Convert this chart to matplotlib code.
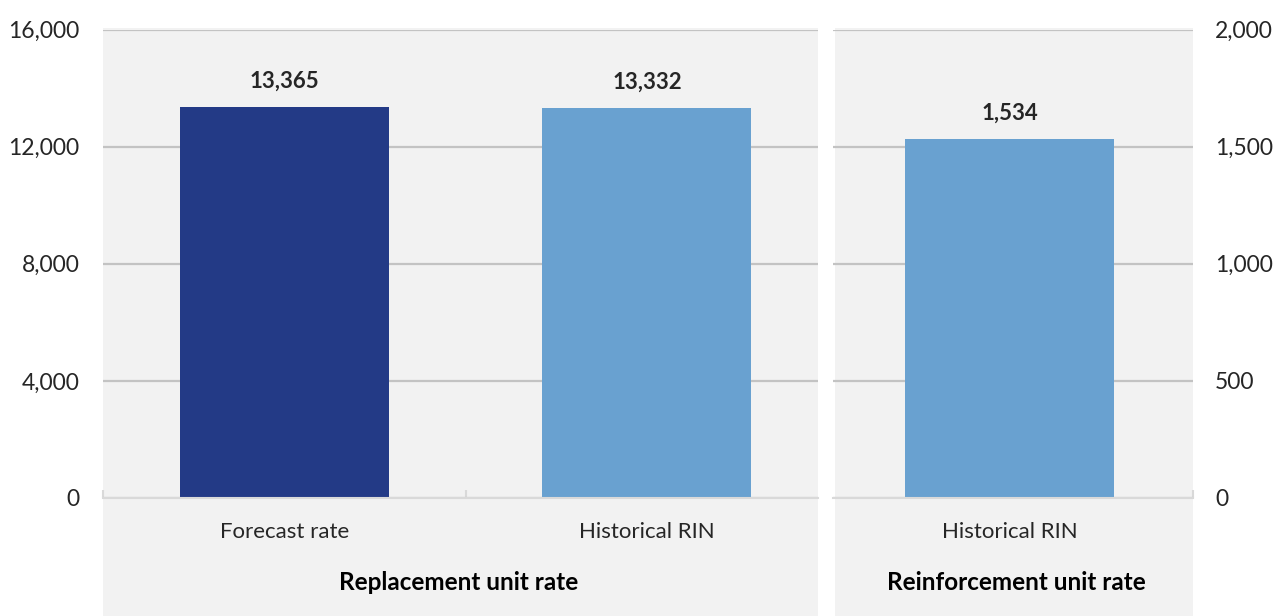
import matplotlib
matplotlib.use("Agg")
import matplotlib.pyplot as plt
from matplotlib.patches import Rectangle
from matplotlib.ticker import FuncFormatter

plt.rcParams['font.family'] = ['Lato', 'DejaVu Sans']

# Data
replacement_categories = ["Forecast rate", "Historical RIN"]
replacement_values = [13365, 13332]
reinforcement_categories = ["Historical RIN"]
reinforcement_values = [1534]
group_labels = ["Replacement unit rate", "Reinforcement unit rate"]
left_ticks = [0, 4000, 8000, 12000, 16000]
right_ticks = [0, 500, 1000, 1500, 2000]

W, H = 1273, 616
DPI = 100
fig = plt.figure(figsize=(W / DPI, H / DPI), dpi=DPI)

NAVY = "#233a86"
LIGHT = "#69a1d0"
PANEL = "#f2f2f2"
GRID = "#c3c3c3"
BASE = "#d9d9d9"
TEXT = "#262626"


def px_rect(x0, x1, y_top, y_bot):
    return [x0 / W, (H - y_bot) / H, (x1 - x0) / W, (y_bot - y_top) / H]


# grey panels behind each group
for x0, x1 in [(103, 818), (835, 1193)]:
    fig.patches.append(Rectangle((x0 / W, 0), (x1 - x0) / W, (H - 28) / H,
                                 transform=fig.transFigure, facecolor=PANEL,
                                 edgecolor="none", zorder=-5))

fmt = FuncFormatter(lambda v, p: f"{int(v):,}")


def style(ax, ymax, ticks, side):
    ax.set_zorder(2)
    ax.set_facecolor("none")
    ax.set_ylim(0, ymax)
    ax.set_yticks(ticks)
    ax.yaxis.set_major_formatter(fmt)
    ax.grid(axis="y", color=GRID, lw=1.6, zorder=0)
    ax.set_axisbelow(True)
    for s in ["top", "left", "right"]:
        ax.spines[s].set_visible(False)
    ax.spines["bottom"].set_color(BASE)
    ax.spines["bottom"].set_linewidth(1.5)
    ax.spines["bottom"].set_zorder(3)
    if side == "right":
        ax.yaxis.tick_right()
    ax.tick_params(axis="y", length=0, labelsize=16.5, labelcolor=TEXT,
                   pad=17 if side == "left" else 16)
    ax.tick_params(axis="x", which="major", length=0, labelsize=16,
                   labelcolor=TEXT, pad=17)
    ax.tick_params(axis="x", which="minor", direction="in", length=6,
                   width=1.5, color=BASE)


def label_bars(ax, bars, values):
    for b, v in zip(bars, values):
        ax.annotate(f"{v:,}", (b.get_x() + b.get_width() / 2, v), xytext=(0, 15),
                    textcoords="offset pixels", ha="center", va="bottom",
                    fontsize=16, fontweight="bold", color=TEXT)


# Left: replacement unit rate
axL = fig.add_axes(px_rect(103, 818, 29.5, 498))
xL = list(range(len(replacement_categories)))
barsL = axL.bar(xL, replacement_values, width=0.577, color=[NAVY, LIGHT], zorder=2)
axL.set_xlim(-0.5, 1.472)
axL.set_xticks(xL)
axL.set_xticklabels(replacement_categories)
axL.set_xticks([-0.5, 0.5], minor=True)
style(axL, 16000, left_ticks, "left")
label_bars(axL, barsL, replacement_values)

# Right: reinforcement unit rate
axR = fig.add_axes(px_rect(833, 1193, 29.5, 498))
xR = list(range(len(reinforcement_categories)))
barsR = axR.bar(xR, reinforcement_values, width=0.577, color=LIGHT, zorder=2)
axR.set_xlim(-0.487, 0.506)
axR.set_xticks(xR)
axR.set_xticklabels(reinforcement_categories)
axR.set_xticks([0.506], minor=True)
style(axR, 2000, right_ticks, "right")
label_bars(axR, barsR, reinforcement_values)

# Group labels under each panel
for label, cx in zip(group_labels, [459, 1016]):
    fig.text(cx / W, (H - 582) / H, label, ha="center", va="center",
             fontsize=17.5, fontweight="bold", color="black")

fig.savefig("out.png", dpi=DPI)
